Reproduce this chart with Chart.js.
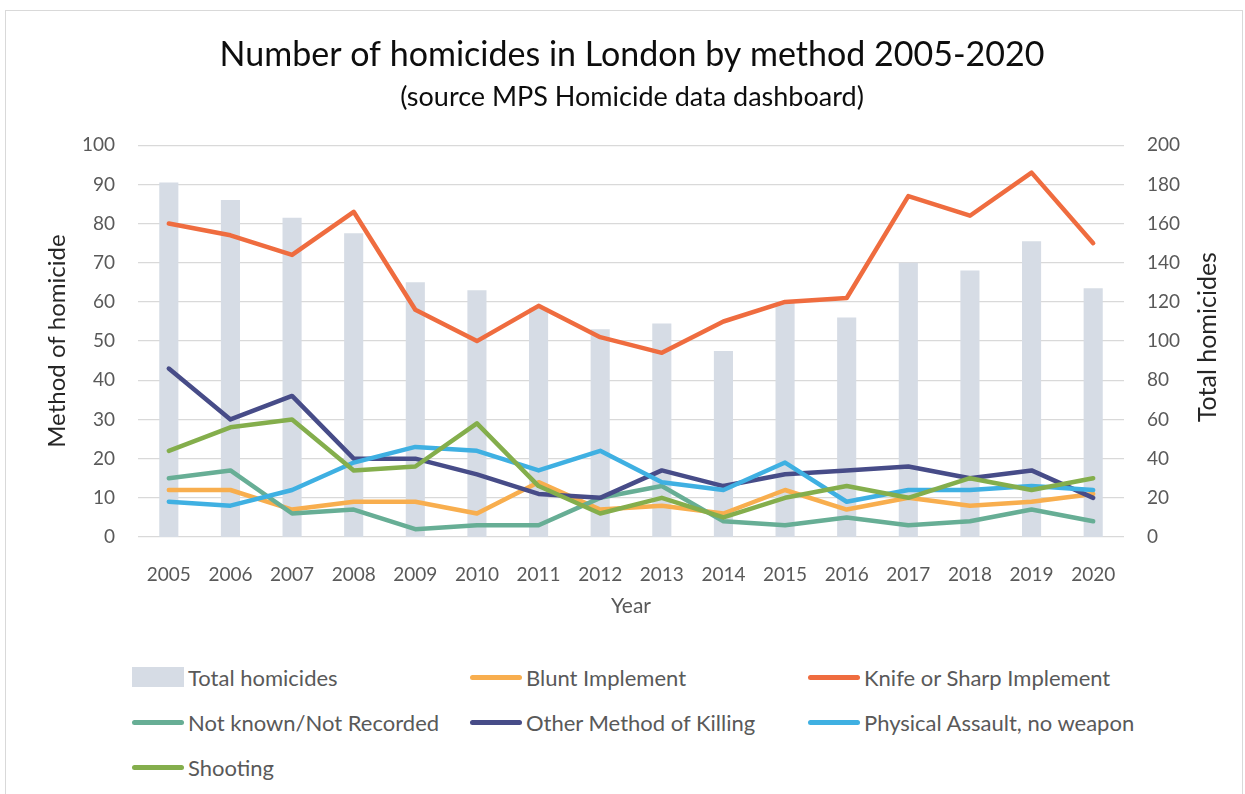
<!DOCTYPE html>
<html>
<head>
<meta charset="utf-8">
<script src="https://cdn.jsdelivr.net/npm/chart.js@4.4.0/dist/chart.umd.min.js"></script>
<style>
  html, body { margin: 0; padding: 0; background: #fff; overflow: hidden; }
  #frame { position: absolute; left: 5px; top: 10px; width: 1236px; height: 800px; border: 1px solid #d9d9d9; }
  #wrap { position: absolute; left: 19px; top: 0; width: 1226px; height: 640px; }
  .item { position: absolute; display: flex; align-items: center; height: 30px; font: 22px Lato, sans-serif; color: #595959; white-space: nowrap; }
  .sw { width: 52px; height: 5px; border-radius: 3px; margin-right: 4px; }
  .sw.bar { height: 20px; border-radius: 0; }
</style>
</head>
<body>
<div id="frame"></div>
<div id="wrap"><canvas id="myChart"></canvas></div>
<div id="legend"></div>
<script>
const years = ['2005', '2006', '2007', '2008', '2009', '2010', '2011', '2012',
  '2013', '2014', '2015', '2016', '2017', '2018', '2019', '2020'];
const totalHomicides = [181, 172, 163, 155, 130, 126, 117, 106, 109, 95, 120, 112, 140, 136, 151, 127];
const blunt = [12, 12, 7, 9, 9, 6, 14, 7, 8, 6, 12, 7, 10, 8, 9, 11];
const knife = [80, 77, 72, 83, 58, 50, 59, 51, 47, 55, 60, 61, 87, 82, 93, 75];
const notKnown = [15, 17, 6, 7, 2, 3, 3, 10, 13, 4, 3, 5, 3, 4, 7, 4];
const otherMethod = [43, 30, 36, 20, 20, 16, 11, 10, 17, 13, 16, 17, 18, 15, 17, 10];
const physical = [9, 8, 12, 19, 23, 22, 17, 22, 14, 12, 19, 9, 12, 12, 13, 12];
const shooting = [22, 28, 30, 17, 18, 29, 13, 6, 10, 5, 10, 13, 10, 15, 12, 15];

const leftTicks = [0, 10, 20, 30, 40, 50, 60, 70, 80, 90, 100];
const rightTicks = [0, 20, 40, 60, 80, 100, 120, 140, 160, 180, 200];

const FONT = 'Lato, sans-serif';

function lineSet(label, data, color, order) {
  return {
    type: 'line',
    label: label,
    data: data,
    borderColor: color,
    backgroundColor: color,
    borderWidth: 4.5,
    borderCapStyle: 'round',
    borderJoinStyle: 'round',
    pointRadius: 0,
    tension: 0,
    yAxisID: 'y',
    order: order,
  };
}

// right axis title reads bottom-to-top like the left one
const rightTitle = {
  id: 'rightTitle',
  afterDraw(chart) {
    const { ctx, chartArea, scales } = chart;
    ctx.save();
    ctx.translate(scales.y1.right - 37, (chartArea.top + chartArea.bottom) / 2 - 4);
    ctx.rotate(-Math.PI / 2);
    ctx.font = '25px ' + FONT;
    ctx.fillStyle = '#262626';
    ctx.textAlign = 'center';
    ctx.textBaseline = 'middle';
    ctx.fillText('Total homicides', 0, 0);
    ctx.restore();
  },
};

const ctx = document.getElementById('myChart').getContext('2d');
const myChart = new Chart(ctx, {
  data: {
    labels: years,
    datasets: [
      {
        type: 'bar',
        label: 'Total homicides',
        data: totalHomicides,
        backgroundColor: '#d6dce5',
        borderWidth: 0,
        barPercentage: 0.31,
        categoryPercentage: 1,
        yAxisID: 'y1',
        order: 10,
      },
      lineSet('Blunt Implement', blunt, '#f8ae4e', 6),
      lineSet('Knife or Sharp Implement', knife, '#ef6c3f', 5),
      lineSet('Not known/Not Recorded', notKnown, '#67ae95', 4),
      lineSet('Other Method of Killing', otherMethod, '#474c88', 3),
      lineSet('Physical Assault, no weapon', physical, '#3fb0e2', 2),
      lineSet('Shooting', shooting, '#84ae4c', 1),
    ],
  },
  options: {
    responsive: true,
    maintainAspectRatio: false,
    animation: false,
    layout: { padding: { top: 0, bottom: 21, left: 0, right: 0 } },
    scales: {
      x: {
        offset: true,
        grid: { display: false },
        border: { display: false },
        ticks: { color: '#595959', font: { family: FONT, size: 19 }, padding: 18, maxRotation: 0 },
        title: { display: true, text: 'Year', color: '#595959', font: { family: FONT, size: 21 }, padding: { top: 12, bottom: 0 } },
        afterFit(scale) { scale.height = 82; },
      },
      y: {
        position: 'left',
        min: 0,
        max: 100,
        afterBuildTicks(scale) { scale.ticks = leftTicks.map(v => ({ value: v })); },
        grid: { color: '#d9d9d9', lineWidth: 1.3, drawTicks: false },
        border: { display: false },
        ticks: { color: '#595959', font: { family: FONT, size: 19 }, padding: 23 },
        title: { display: true, text: 'Method of homicide', color: '#262626', font: { family: FONT, size: 24 }, padding: { top: 24, bottom: 0 } },
        afterFit(scale) { scale.width = 119; },
      },
      y1: {
        position: 'right',
        min: 0,
        max: 200,
        afterBuildTicks(scale) { scale.ticks = rightTicks.map(v => ({ value: v })); },
        grid: { display: false, drawTicks: false },
        border: { display: false },
        ticks: { color: '#595959', font: { family: FONT, size: 19 }, padding: 23 },
        afterFit(scale) { scale.width = 121; },
      },
    },
    plugins: {
      legend: { display: false },
      tooltip: { enabled: false },
      title: {
        display: true,
        text: 'Number of homicides in London by method 2005-2020',
        color: '#0d0d0d',
        font: { family: FONT, size: 34, weight: 'normal' },
        padding: { top: 35, bottom: 0 },
      },
      subtitle: {
        display: true,
        text: '(source MPS Homicide data dashboard)',
        color: '#0d0d0d',
        font: { family: FONT, size: 27, weight: 'normal' },
        padding: { top: 5, bottom: 32 },
      },
    },
  },
  plugins: [rightTitle],
});

// legend laid out in three columns under the chart
const colX = [132, 470, 808];
const rowY = [677, 722, 767];
const legend = document.getElementById('legend');
myChart.data.datasets.forEach((ds, i) => {
  const item = document.createElement('div');
  item.className = 'item';
  item.style.left = colX[i % 3] + 'px';
  item.style.top = (rowY[Math.floor(i / 3)] - 15) + 'px';
  const sw = document.createElement('span');
  sw.className = ds.type === 'bar' ? 'sw bar' : 'sw';
  sw.style.background = ds.type === 'bar' ? ds.backgroundColor : ds.borderColor;
  const txt = document.createElement('span');
  txt.textContent = ds.label;
  item.appendChild(sw);
  item.appendChild(txt);
  legend.appendChild(item);
});
</script>
</body>
</html>
